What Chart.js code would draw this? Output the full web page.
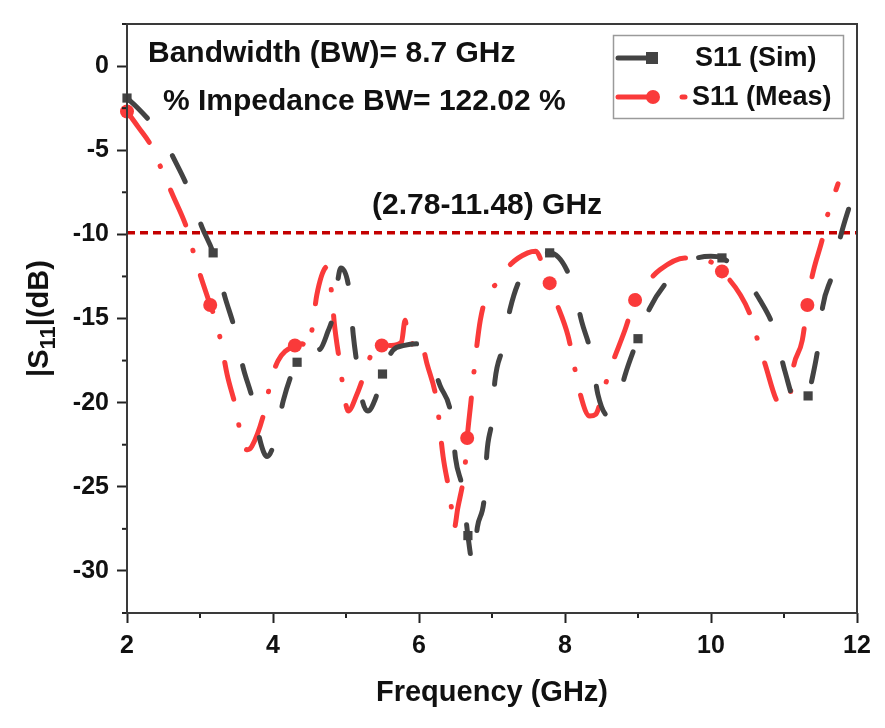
<!DOCTYPE html>
<html>
<head>
<meta charset="utf-8">
<title>S11 Sim vs Meas</title>
<script src="https://cdn.jsdelivr.net/npm/chart.js@4.4.1/dist/chart.umd.min.js"></script>
<style>
body{margin:0;background:#fff}
canvas{display:block}
</style>
</head>
<body>
<canvas id="myChart" width="885" height="728"></canvas>
<script>
// values: frequency (GHz) and |S11| (dB)
var simFreq = [2.0,2.15,2.34,2.5,2.63,2.84,3.03,3.18,3.34,3.48,3.59,3.73,3.82,3.92,4.03,4.14,4.33,4.5,4.65,4.75,4.82,4.93,5.05,5.1,5.16,5.22,5.3,5.4,5.5,5.64,5.8,6.01,6.15,6.29,6.45,6.5,6.6,6.67,6.74,6.8,6.9,6.93,7.0,7.04,7.15,7.25,7.41,7.6,7.79,8.1,8.23,8.37,8.45,8.6,8.72,8.82,9.0,9.16,9.44,9.7,10.0,10.15,10.4,10.67,10.88,11.01,11.18,11.25,11.33,11.38,11.47,11.53,11.66,11.77,11.92];
var simS11 = [-1.9,-2.5,-3.4,-4.3,-5.4,-7.3,-9.6,-11.1,-13.7,-15.7,-17.9,-20.0,-22.2,-23.2,-22.2,-19.9,-17.6,-17.0,-16.8,-15.8,-14.9,-12.0,-13.5,-16.0,-18.0,-19.8,-20.5,-19.8,-18.3,-16.9,-16.6,-16.5,-17.5,-19.0,-21.0,-23.3,-25.2,-27.9,-29.6,-27.4,-25.4,-23.0,-21.0,-18.7,-16.7,-14.4,-12.4,-11.4,-11.1,-12.9,-15.2,-17.3,-19.5,-20.8,-20.0,-18.4,-16.2,-14.4,-12.6,-11.6,-11.3,-11.4,-12.3,-13.9,-15.8,-18.1,-20.1,-20.0,-19.6,-18.7,-16.6,-14.3,-12.4,-10.2,-8.0];
var simMarkFreq = [2.0,3.18,4.33,5.5,6.67,7.79,9.0,10.15,11.33];

var measFreq = [2.0,2.15,2.34,2.48,2.62,2.84,2.93,3.04,3.14,3.23,3.3,3.37,3.51,3.56,3.65,3.71,3.89,3.96,4.07,4.3,4.4,4.48,4.55,4.6,4.75,4.81,4.84,4.92,4.97,5.03,5.15,5.26,5.36,5.49,5.62,5.76,5.81,5.86,6.01,6.11,6.25,6.29,6.33,6.43,6.48,6.53,6.63,6.66,6.71,6.79,6.84,6.93,7.07,7.25,7.49,7.6,7.71,7.79,7.86,8.04,8.11,8.18,8.34,8.42,8.52,8.62,8.82,8.96,9.1,9.3,9.64,9.92,10.15,10.53,10.64,10.74,10.92,10.98,11.08,11.12,11.25,11.32,11.38,11.53,11.6,11.74];
var measS11 = [-2.7,-3.6,-4.8,-6.2,-7.6,-9.9,-11.4,-12.9,-14.2,-15.3,-16.7,-18.3,-20.7,-22.1,-22.8,-22.6,-20.4,-18.9,-17.5,-16.6,-16.5,-16.8,-15.2,-13.6,-11.9,-13.8,-15.3,-17.8,-19.4,-20.5,-19.5,-18.2,-17.0,-16.6,-16.6,-16.4,-15.1,-16.6,-16.2,-17.7,-20.1,-21.7,-23.2,-25.7,-27.5,-26.3,-23.8,-22.1,-20.0,-16.7,-15.1,-13.6,-12.9,-11.8,-11.1,-11.0,-12.0,-12.9,-13.8,-16.0,-17.4,-19.0,-20.8,-20.7,-19.4,-18.0,-15.7,-13.9,-13.0,-12.1,-11.4,-11.5,-12.2,-14.7,-16.3,-17.7,-20.0,-20.1,-19.7,-18.1,-16.3,-14.2,-12.6,-10.2,-8.8,-7.0];
var measMarkFreq = [2.0,3.14,4.3,5.49,6.66,7.79,8.96,10.15,11.32];

var limitFreq = [2, 12];
var limitDb = -9.9;

var xTicks = [2,4,6,8,10,12];
var yTicks = [0,-5,-10,-15,-20,-25,-30];
var xMinor = [3,5,7,9,11];
var yMinor = [2.5,-2.5,-7.5,-12.5,-17.5,-22.5,-27.5,-32.5];

var FONT = '"Liberation Sans", Arial, sans-serif';
var SIM_COL = '#434343';
var MEAS_COL = '#fa3a3a';

function pts(xs, ys){ return xs.map(function(x,i){ return {x:x, y:ys[i]}; }); }
function markRadius(freqs, marks, r){
	return function(ctx){ return marks.indexOf(freqs[ctx.dataIndex]) >= 0 ? r : 0; };
}

// frame, minor ticks, axis titles, text notes and legend
var decor = {
	id:'decor',
	afterDraw:function(chart)
	{
		var c = chart.ctx, a = chart.chartArea, xs = chart.scales.x, ys = chart.scales.y;
		c.save();
		c.strokeStyle = '#222'; c.lineWidth = 2;
		xMinor.forEach(function(v){
			var p = xs.getPixelForValue(v);
			c.beginPath(); c.moveTo(p, a.bottom); c.lineTo(p, a.bottom+5); c.stroke();
		});
		yMinor.forEach(function(v){
			var p = ys.getPixelForValue(v);
			c.beginPath(); c.moveTo(a.left-5, p); c.lineTo(a.left, p); c.stroke();
		});
		c.strokeStyle = '#3a3a3a'; c.lineWidth = 2;
		c.strokeRect(a.left, a.top, a.right-a.left, a.bottom-a.top);

		c.fillStyle = '#111';
		c.textBaseline = 'middle';
		c.textAlign = 'center';
		c.font = 'bold 29px ' + FONT;
		c.fillText('Frequency (GHz)', (a.left+a.right)/2, 693);

		// y title with subscript
		c.save();
		c.translate(38, (a.top+a.bottom)/2);
		c.rotate(-Math.PI/2);
		c.textAlign = 'left'; c.textBaseline = 'alphabetic';
		var big = 'bold 29px ' + FONT, small = 'bold 22px ' + FONT;
		c.font = big; var w1 = c.measureText('|S').width, w3 = c.measureText('|(dB)').width;
		c.font = small; var w2 = c.measureText('11').width;
		var x0 = -(w1+w2+w3)/2, base = 10;
		c.font = big; c.fillText('|S', x0, base);
		c.font = small; c.fillText('11', x0+w1, base+7);
		c.font = big; c.fillText('|(dB)', x0+w1+w2, base);
		c.restore();

		c.textAlign = 'left';
		c.font = 'bold 30px ' + FONT;
		c.fillText('Bandwidth (BW)= 8.7 GHz', 148, 54);
		c.fillText('% Impedance BW= 122.02 %', 163, 102);
		c.fillText('(2.78-11.48) GHz', 372, 206);

		// legend
		c.strokeStyle = '#9a9a9a'; c.lineWidth = 1.5;
		c.strokeRect(613.5, 35.5, 230, 83);
		c.lineCap = 'round'; c.lineWidth = 5;
		c.strokeStyle = SIM_COL; c.fillStyle = SIM_COL;
		c.beginPath(); c.moveTo(618, 58); c.lineTo(650, 58); c.stroke();
		c.fillRect(646, 52, 12, 12);
		c.strokeStyle = MEAS_COL; c.fillStyle = MEAS_COL;
		c.beginPath(); c.moveTo(618, 97); c.lineTo(650, 97); c.stroke();
		c.beginPath(); c.arc(653, 97, 7, 0, Math.PI*2); c.fill();
		c.beginPath(); c.moveTo(682, 97); c.lineTo(685, 97); c.stroke();
		c.fillStyle = '#111';
		c.font = 'bold 27px ' + FONT;
		c.fillText('S11 (Sim)', 695, 59);
		c.fillText('S11 (Meas)', 692, 98);
		c.restore();
	}
};

var ctx = document.getElementById('myChart');
var myChart = new Chart(ctx,
{
	type:'line',
	data:{datasets:[
		{
			label:'S11 (Sim)',
			data:pts(simFreq, simS11),
			borderColor:SIM_COL, backgroundColor:SIM_COL,
			borderWidth:5, borderDash:[29,45], borderCapStyle:'round',
			cubicInterpolationMode:'monotone',
			pointStyle:'rect', pointRadius:markRadius(simFreq, simMarkFreq, 6.5),
			pointBorderWidth:0, pointHoverRadius:0, clip:false
		},
		{
			label:'S11 (Meas)',
			data:pts(measFreq, measS11),
			borderColor:MEAS_COL, backgroundColor:MEAS_COL,
			borderWidth:5, borderDash:[38,26,0.5,26], borderCapStyle:'round',
			cubicInterpolationMode:'monotone',
			pointStyle:'circle', pointRadius:markRadius(measFreq, measMarkFreq, 7),
			pointBorderWidth:0, pointHoverRadius:0, clip:false
		},
		{
			label:'-10 dB',
			data:limitFreq.map(function(f){ return {x:f, y:limitDb}; }),
			borderColor:'#c40000', borderWidth:3.5, borderDash:[8,5],
			pointRadius:0
		}
	]},
	options:
	{
		responsive:false,
		animation:false,
		events:[],
		layout:{padding:{top:24, right:28, left:0, bottom:0}},
		plugins:{legend:{display:false}, tooltip:{enabled:false}},
		scales:
		{
			x:{
				type:'linear', min:2, max:12,
				afterFit:function(s){ s.height = 115; },
				afterBuildTicks:function(s){ s.ticks = xTicks.map(function(v){ return {value:v}; }); },
				grid:{drawOnChartArea:false, tickLength:10, tickWidth:2, tickColor:'#222'},
				border:{display:false},
				ticks:{padding:8, color:'#111', font:{family:FONT, size:25, weight:'bold'}, maxRotation:0}
			},
			y:{
				type:'linear', min:-32.5, max:2.5,
				afterFit:function(s){ s.width = 127; },
				afterBuildTicks:function(s){ s.ticks = yTicks.map(function(v){ return {value:v}; }); },
				grid:{drawOnChartArea:false, tickLength:10, tickWidth:2, tickColor:'#222'},
				border:{display:false},
				ticks:{padding:8, color:'#111', font:{family:FONT, size:25, weight:'bold'}}
			}
		}
	},
	plugins:[decor]
});
</script>
</body>
</html>
